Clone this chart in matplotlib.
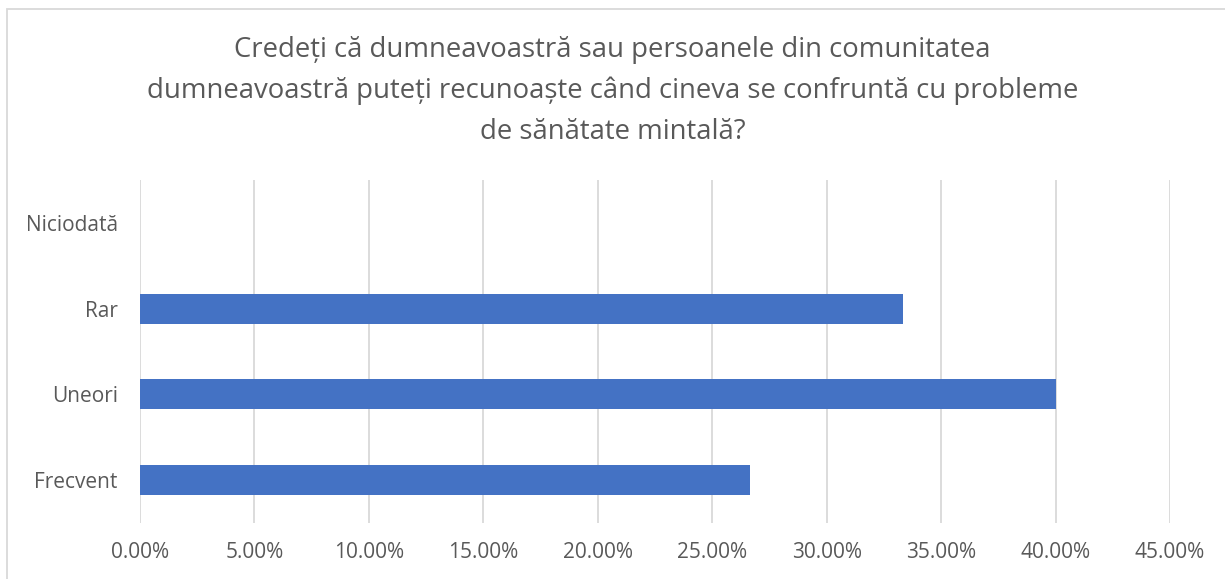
import matplotlib.pyplot as plt
from matplotlib.patches import Rectangle
from matplotlib.ticker import FuncFormatter

categories = ['Frecvent', 'Uneori', 'Rar', 'Niciodată']
values = [26.67, 40.00, 33.33, 0.0]
title = ('Credeți că dumneavoastră sau persoanele din comunitatea\n'
         'dumneavoastră puteți recunoaște când cineva se confruntă cu probleme\n'
         'de sănătate mintală?')

plt.rcParams['font.family'] = ['Open Sans', 'DejaVu Sans']
text_color = '#595959'

fig = plt.figure(figsize=(12.25, 5.79), dpi=100)
ax = fig.add_axes([140 / 1225, 1 - 523 / 579, 1030 / 1225, 343 / 579])

ax.barh(range(len(categories)), values, height=0.35, color='#4472C4')
ax.set_xlim(0, 45)
ax.set_ylim(-0.5, len(categories) - 0.5)
ax.set_xticks([i * 5 for i in range(10)])
ax.xaxis.set_major_formatter(FuncFormatter(lambda v, p: f'{v:.2f}%'))
ax.set_yticks(range(len(categories)))
ax.set_yticklabels(categories)

ax.grid(axis='x', color='#d9d9d9', linewidth=1.3)
ax.set_axisbelow(True)
for s in ax.spines.values():
    s.set_visible(False)
ax.tick_params(axis='both', length=0, colors=text_color, labelsize=15)
ax.tick_params(axis='x', pad=14)
ax.tick_params(axis='y', pad=16)

fig.text(0.5, 1 - 91 / 579, title, ha='center', va='center', fontsize=19.8,
         color=text_color, linespacing=1.6)

# chart border
fig.patches.append(Rectangle((7 / 1225, -0.01), 1.1, 1 - 9 / 579 + 0.01,
                             transform=fig.transFigure, fill=False,
                             edgecolor='#d9d9d9', linewidth=1.3))

fig.savefig('out.png', dpi=100)
